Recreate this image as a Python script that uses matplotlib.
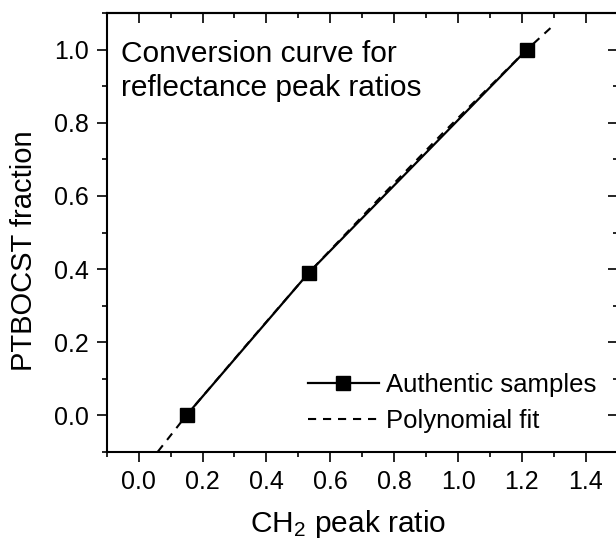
import matplotlib
matplotlib.use('Agg')
import matplotlib.pyplot as plt
from matplotlib.ticker import MultipleLocator

plt.rcParams['font.family'] = ['Liberation Sans', 'DejaVu Sans']
plt.rcParams['mathtext.fontset'] = 'custom'
plt.rcParams['mathtext.rm'] = 'Liberation Sans'
plt.rcParams['mathtext.it'] = 'Liberation Sans:italic'

# authentic samples (CH2 peak ratio vs PTBOCST fraction)
ratio = [0.15, 0.533, 1.215]
fraction = [0.0, 0.39, 1.0]

# polynomial fit curve
fit_ratio = [0.06, 0.15, 0.35, 0.533, 0.75, 0.95, 1.215, 1.30]
fit_fraction = [-0.10, 0.0, 0.205, 0.39, 0.59, 0.77, 1.0, 1.068]

xticks = [0.0, 0.2, 0.4, 0.6, 0.8, 1.0, 1.2, 1.4]
yticks = [0.0, 0.2, 0.4, 0.6, 0.8, 1.0]

fig = plt.figure(figsize=(6.16, 5.39), dpi=100)
ax = fig.add_axes([106.7/616, 1 - 451.7/539, 511/616, 438.4/539])

ax.plot(fit_ratio, fit_fraction, color='black', lw=1.5, ls=(0, (3.9, 3.3)),
        label='Polynomial fit', zorder=2)
ax.plot(ratio, fraction, color='black', lw=1.6, marker='s', ms=9.5,
        label='Authentic samples', zorder=3)

ax.set_xlim(-0.1, 1.5)
ax.set_ylim(-0.1, 1.1)
ax.set_xticks(xticks)
ax.set_yticks(yticks)
ax.xaxis.set_minor_locator(MultipleLocator(0.1))
ax.yaxis.set_minor_locator(MultipleLocator(0.1))
ax.tick_params(which='major', direction='out', length=7, width=1.2,
               labelsize=18, pad=6)
ax.tick_params(which='minor', direction='out', length=3.5, width=1.2)
for s in ax.spines.values():
    s.set_linewidth(1.5)

# mirrored ticks on top and right pointing inward
top = ax.secondary_xaxis('top')
top.set_xticks(xticks)
top.xaxis.set_minor_locator(MultipleLocator(0.1))
top.tick_params(which='major', direction='in', length=7, width=1.2, labeltop=False)
top.tick_params(which='minor', direction='in', length=3.5, width=1.2)
top.spines['top'].set_linewidth(1.5)
right = ax.secondary_yaxis('right')
right.set_yticks(yticks)
right.yaxis.set_minor_locator(MultipleLocator(0.1))
right.tick_params(which='major', direction='in', length=7, width=1.2, labelright=False)
right.tick_params(which='minor', direction='in', length=3.5, width=1.2)

ax.set_xlabel(r'CH$_2$ peak ratio', fontsize=21.5)
ax.xaxis.set_label_coords(0.472, -0.128)
ax.set_ylabel('PTBOCST fraction', fontsize=21)
ax.yaxis.set_label_coords(-0.135, 0.458)

ax.text(-0.055, 1.027, 'Conversion curve for\nreflectance peak ratios',
        fontsize=21.5, va='top', ha='left', linespacing=1.28)

h, l = ax.get_legend_handles_labels()
ax.legend(h[::-1], l[::-1], loc='center left', bbox_to_anchor=(0.394, 0.111),
          frameon=False, fontsize=18.5, handlelength=2.75, handletextpad=0.3,
          labelspacing=0.45, borderpad=0, borderaxespad=0)

fig.savefig('out.png', dpi=100)
